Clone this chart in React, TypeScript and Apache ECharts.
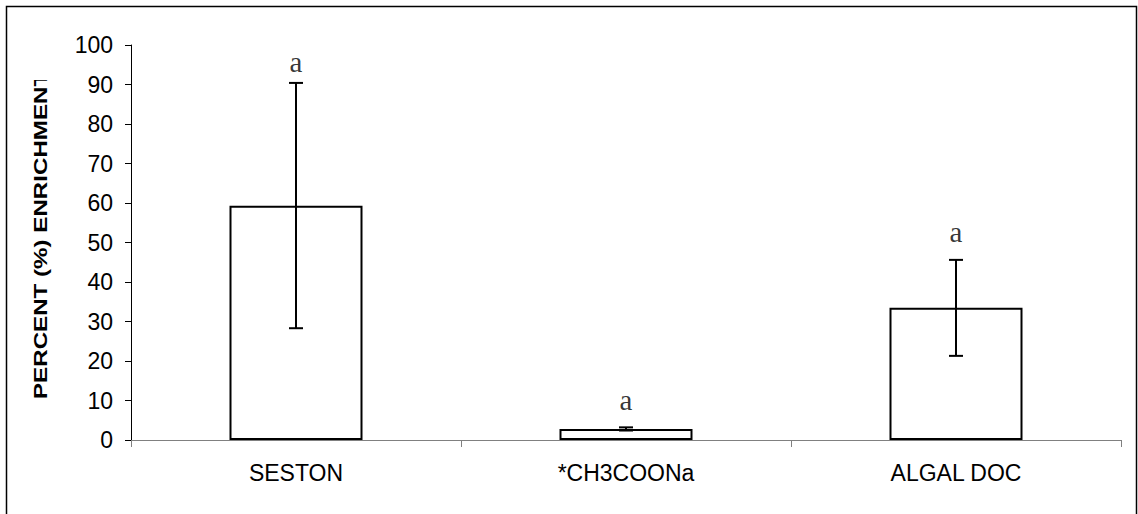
import React, { useEffect, useRef } from "react";
import * as echarts from "echarts";

const categories = ["SESTON", "*CH3COONa", "ALGAL DOC"];
const means = [59.3, 2.8, 33.5];
const errLow = [28.3, 2.4, 21.3];
const errHigh = [90.4, 3.2, 45.6];
const sigLetters = ["a", "a", "a"];
const sigY = [95.7, 10.1, 52.7];

export default function App() {
  const ref = useRef<HTMLDivElement>(null);
  useEffect(() => {
    if (!ref.current) return;
    const chart = echarts.init(ref.current, null, { renderer: "svg" });
    const errData = categories.map((_, i) => [i, errLow[i], errHigh[i]]);
    const sigData = categories.map((_, i) => [i, sigY[i]]);
    chart.setOption({
      animation: false,
      backgroundColor: "#fff",
      grid: { left: 131, right: 17, top: 45, bottom: 74, containLabel: false },
      xAxis: {
        type: "category",
        data: categories,
        axisLine: { lineStyle: { color: "#808080", width: 1 } },
        axisTick: { show: true, length: 7, alignWithLabel: false, lineStyle: { color: "#808080" } },
        axisLabel: { color: "#000", fontSize: 23, fontFamily: "Liberation Sans, Arial", margin: 21 },
        splitLine: { show: false },
      },
      yAxis: {
        type: "value",
        min: 0,
        max: 100,
        interval: 10,
        axisLine: { show: true, lineStyle: { color: "#000", width: 1 } },
        axisTick: { show: true, length: 6, lineStyle: { color: "#000" } },
        axisLabel: { color: "#000", fontSize: 23, fontFamily: "Liberation Sans, Arial", margin: 18 },
        splitLine: { show: false },
      },
      graphic: [
        {
          type: "rect",
          shape: { x: 6.5, y: 6.5, width: 1130, height: 520 },
          style: { fill: "none", stroke: "#000", lineWidth: 1.5 },
          z: 100,
        },
        {
          type: "text",
          x: 41.5,
          y: 399,
          rotation: Math.PI / 2,
          scaleX: 1.15,
          scaleY: 0.86,
          style: {
            text: "PERCENT (%) ENRICHMENT",
            fontSize: 21,
            fontWeight: "bold",
            fontFamily: "Liberation Sans, Arial",
            fill: "#000",
            textAlign: "left",
            textVerticalAlign: "middle",
          },
          z: 50,
        },
        {
          type: "rect",
          shape: { x: 25, y: 8, width: 35, height: 72 },
          style: { fill: "#fff" },
          z: 60,
        },
      ],
      series: [
        {
          type: "bar",
          data: means,
          barWidth: 133,
          itemStyle: { color: "#fff", borderColor: "#000", borderWidth: 2 },
          z: 2,
        },
        {
          type: "custom",
          data: errData,
          z: 3,
          renderItem: (params: any, api: any) => {
            const x = api.value(0);
            const top = api.coord([x, api.value(2)]);
            const bot = api.coord([x, api.value(1)]);
            const hw = 7;
            const style = { stroke: "#000", lineWidth: 2 };
            return {
              type: "group",
              children: [
                { type: "line", shape: { x1: top[0], y1: top[1], x2: bot[0], y2: bot[1] }, style },
                { type: "line", shape: { x1: top[0] - hw, y1: top[1], x2: top[0] + hw, y2: top[1] }, style },
                { type: "line", shape: { x1: bot[0] - hw, y1: bot[1], x2: bot[0] + hw, y2: bot[1] }, style },
              ],
            };
          },
        },
        {
          type: "scatter",
          data: sigData,
          symbolSize: 1,
          itemStyle: { color: "rgba(0,0,0,0)" },
          z: 4,
          label: {
            show: true,
            position: "inside",
            formatter: (p: any) => sigLetters[p.dataIndex],
            color: "#000",
            fontSize: 29,
            fontFamily: "Liberation Serif, Times New Roman, serif",
          },
        },
      ],
    });
    return () => chart.dispose();
  }, []);
  return (
    <div
      ref={ref}
      style={{ position: "absolute", left: 0, top: 0, width: 1138, height: 514 }}
    />
  );
}
